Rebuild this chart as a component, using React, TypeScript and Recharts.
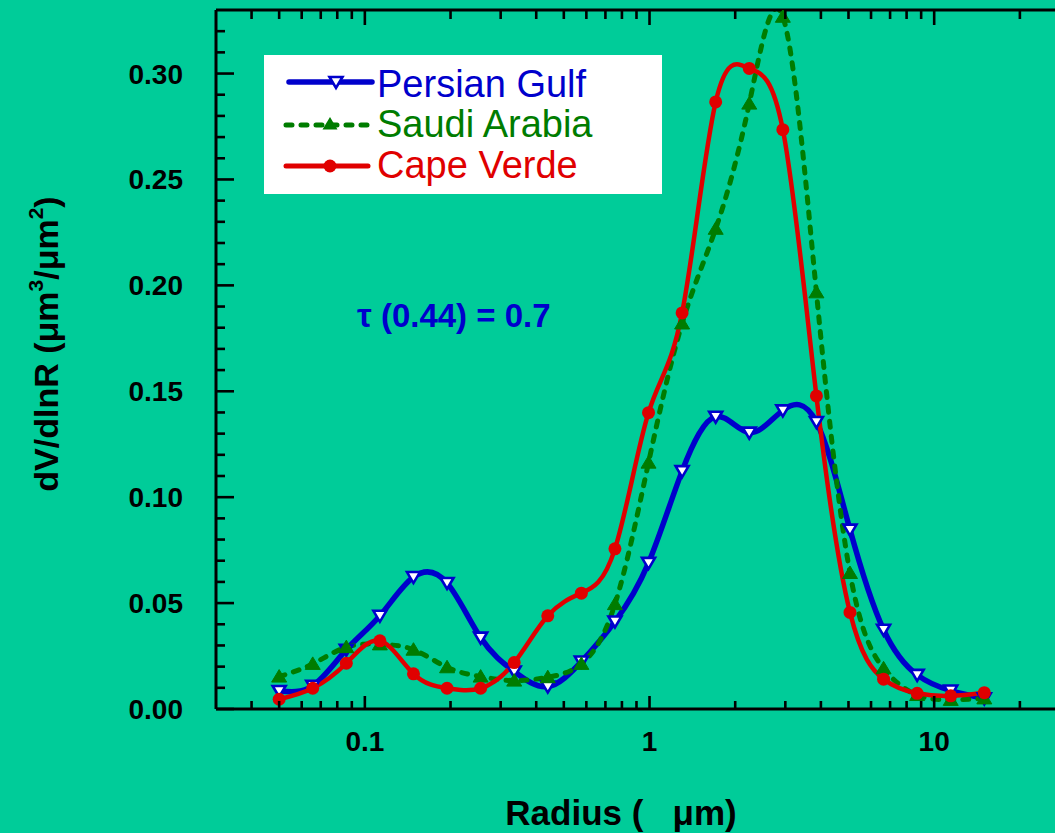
import React from "react";
import { Legend, Line, LineChart, XAxis, YAxis } from "recharts";

// AERONET size bins (µm) and dV/dlnR for each site
const radius = [
  0.05, 0.065604, 0.086077, 0.112939, 0.148184, 0.194429, 0.255105, 0.334716,
  0.439173, 0.576227, 0.756052, 0.991996, 1.301571, 1.707757, 2.240702,
  2.939966, 3.857452, 5.06126, 6.640745, 8.713145, 11.432287, 15.0,
];
const persianGulf = [
  0.0085, 0.011, 0.028, 0.044, 0.0623, 0.0595, 0.0337, 0.0177, 0.0106, 0.0224,
  0.0413, 0.069, 0.1123, 0.138, 0.1305, 0.141, 0.1355, 0.0847, 0.0374, 0.0161,
  0.0087, 0.005,
];
const saudiArabia = [
  0.0153, 0.0213, 0.0292, 0.0305, 0.028, 0.0197, 0.0153, 0.0134, 0.015, 0.0213,
  0.0495, 0.1163, 0.182, 0.2267, 0.2858, 0.3268, 0.1967, 0.0642, 0.0192, 0.0066,
  0.0043, 0.005,
];
const capeVerde = [
  0.0046, 0.0098, 0.0216, 0.0322, 0.0166, 0.0098, 0.0098, 0.0219, 0.044, 0.0547,
  0.0756, 0.1399, 0.187, 0.2866, 0.3024, 0.2735, 0.1478, 0.0456, 0.0141, 0.0074,
  0.0062, 0.0077,
];

const xMajor = [0.1, 1, 10];
const xMajorLabels = ["0.1", "1", "10"];
const xMinor = [
  0.04, 0.05, 0.06, 0.07, 0.08, 0.09, 0.2, 0.3, 0.4, 0.5, 0.6, 0.7, 0.8, 0.9,
  2, 3, 4, 5, 6, 7, 8, 9, 20,
];
const yMajor = [0, 0.05, 0.1, 0.15, 0.2, 0.25, 0.3];
const yMajorLabels = ["0.00", "0.05", "0.10", "0.15", "0.20", "0.25", "0.30"];
const yMinor = [
  0.01, 0.02, 0.03, 0.04, 0.06, 0.07, 0.08, 0.09, 0.11, 0.12, 0.13, 0.14, 0.16,
  0.17, 0.18, 0.19, 0.21, 0.22, 0.23, 0.24, 0.26, 0.27, 0.28, 0.29, 0.31, 0.32,
];
const legendOrder = ["persian", "saudi", "cape"];

const BG = "#00cc99";
const BLUE = "#0000cc";
const GREEN = "#007c00";
const RED = "#e00000";
const FONT = "'Liberation Sans', Arial, sans-serif";

const rows = radius.map((r, i) => ({
  r,
  persian: persianGulf[i],
  saudi: saudiArabia[i],
  cape: capeVerde[i],
}));

const xTicks = [...xMinor, ...xMajor].sort((a, b) => a - b);
const yTicks = [...yMinor, ...yMajor].sort((a, b) => a - b);

const near = (a: number, b: number) => Math.abs(a - b) < 1e-9;

function BottomTick(props: any) {
  const x = Number(props.x);
  const y = Number(props.y);
  const idx = xMajor.findIndex((v) => near(v, props.payload.value));
  const major = idx >= 0;
  return (
    <g>
      <path d={`M${x},${y} L${x},${y - (major ? 13 : 8)}`} stroke="#000" strokeWidth={2.6} fill="none" />
      {major && (
        <text x={x} y={y + 42} textAnchor="middle" fontFamily={FONT} fontWeight="bold" fontSize={28} fill="#000">
          {xMajorLabels[idx]}
        </text>
      )}
    </g>
  );
}

function TopTick(props: any) {
  const x = Number(props.x);
  const y = Number(props.y);
  const major = xMajor.some((v) => near(v, props.payload.value));
  return (
    <g>
      <path d={`M${x},${y} L${x},${y + (major ? 15 : 9)}`} stroke="#000" strokeWidth={2.6} fill="none" />
    </g>
  );
}

function LeftTick(props: any) {
  const x = Number(props.x);
  const y = Number(props.y);
  const idx = yMajor.findIndex((v) => near(v, props.payload.value));
  const major = idx >= 0;
  return (
    <g>
      <path d={`M${x},${y} L${x + (major ? 18 : 9)},${y}`} stroke="#000" strokeWidth={2.6} fill="none" />
      {major && (
        <text x={x - 33} y={y + 10} textAnchor="end" fontFamily={FONT} fontWeight="bold" fontSize={28} fill="#000">
          {yMajorLabels[idx]}
        </text>
      )}
    </g>
  );
}

function downTri(cx: number, cy: number) {
  return `M${cx - 6.5},${cy - 5} L${cx + 6.5},${cy - 5} L${cx},${cy + 6} Z`;
}
function upTri(cx: number, cy: number) {
  return `M${cx},${cy - 7} L${cx - 7.5},${cy + 5.5} L${cx + 7.5},${cy + 5.5} Z`;
}

const blueDot = (p: any) => (
  <path key={`pg-${p.index}`} d={downTri(p.cx, p.cy)} fill="#fff" stroke={BLUE} strokeWidth={2.6} />
);
const greenDot = (p: any) => <path key={`sa-${p.index}`} d={upTri(p.cx, p.cy)} fill={GREEN} stroke={GREEN} strokeWidth={1} />;
const redDot = (p: any) => <circle key={`cv-${p.index}`} cx={p.cx} cy={p.cy} r={6.5} fill={RED} />;

const styleByKey: Record<string, { color: string; dash?: string; marker: string }> = {
  persian: { color: BLUE, marker: "down" },
  saudi: { color: GREEN, dash: "6 9", marker: "up" },
  cape: { color: RED, marker: "circle" },
};

function LegendBox(props: any) {
  const payload = [...(props.payload || [])].sort(
    (a: any, b: any) => legendOrder.indexOf(a.dataKey) - legendOrder.indexOf(b.dataKey)
  );
  const lineY = [27, 70, 111];
  const textY = [42, 82, 123];
  return (
    <svg width={398} height={139} style={{ display: "block", background: "#fff" }}>
      {payload.map((entry: any, i: number) => {
        const st = styleByKey[entry.dataKey];
        const x1 = i === 0 ? 25 : 22;
        const x2 = i === 0 ? 108 : 104;
        const mx = i === 0 ? 72 : 66;
        return (
          <g key={entry.dataKey}>
            <line
              x1={x1}
              x2={x2}
              y1={lineY[i]}
              y2={lineY[i]}
              stroke={st.color}
              strokeWidth={i === 0 ? 5.5 : 5}
              strokeDasharray={st.dash}
              strokeLinecap="round"
            />
            {st.marker === "down" && <path d={downTri(mx, lineY[i])} fill="#fff" stroke={BLUE} strokeWidth={2.6} />}
            {st.marker === "up" && <path d={upTri(mx, lineY[i] - 1)} fill={GREEN} />}
            {st.marker === "circle" && <circle cx={mx} cy={lineY[i]} r={6.5} fill={RED} />}
            <text x={113} y={textY[i]} fontFamily={FONT} fontSize={38} fill={st.color}>
              {entry.value}
            </text>
          </g>
        );
      })}
    </svg>
  );
}

function YTitle(props: any) {
  const vb = props.viewBox || { x: 156, y: 10 };
  const x = vb.x - 98;
  const y = vb.y + 334;
  return (
    <text x={x} y={y} transform={`rotate(-90, ${x}, ${y})`} textAnchor="middle" fontFamily={FONT} fontWeight="bold" fontSize={34} fill="#000">
      dV/dlnR (μm
      <tspan dy={-15} fontSize={21}>3</tspan>
      <tspan dy={15}>/μm</tspan>
      <tspan dy={-15} fontSize={21}>2</tspan>
      <tspan dy={15}>)</tspan>
    </text>
  );
}

function XTitle(props: any) {
  const vb = props.viewBox || { x: 216, y: 709 };
  return (
    <text x={vb.x + 405} y={vb.y + 116} textAnchor="middle" fontFamily={FONT} fontWeight="bold" fontSize={35} fill="#000" style={{ whiteSpace: "pre" }}>
      {"Radius (   μm)"}
    </text>
  );
}

export default function App() {
  return (
    <div
      style={{
        position: "fixed",
        left: 0,
        top: 0,
        width: 1055,
        height: 833,
        overflow: "hidden",
        background: BG,
      }}
    >
      <LineChart width={1100} height={833} data={rows} margin={{ top: 9, right: 30, bottom: 64, left: 156 }}>
        <XAxis
          dataKey="r"
          type="number"
          scale="log"
          domain={[0.03, 30]}
          allowDataOverflow
          ticks={xTicks}
          interval={0}
          height={60}
          tickSize={0}
          tickMargin={0}
          tickLine={false}
          axisLine={{ stroke: "#000", strokeWidth: 3 }}
          tick={(p: any) => <BottomTick {...p} />}
          label={<XTitle />}
        />
        <XAxis
          xAxisId="top"
          dataKey="r"
          type="number"
          scale="log"
          orientation="top"
          domain={[0.03, 30]}
          allowDataOverflow
          ticks={xTicks}
          interval={0}
          height={1}
          tickSize={0}
          tickMargin={0}
          tickLine={false}
          axisLine={{ stroke: "#000", strokeWidth: 3 }}
          tick={(p: any) => <TopTick {...p} />}
        />
        <YAxis
          type="number"
          domain={[0, 0.33]}
          allowDataOverflow
          ticks={yTicks}
          interval={0}
          width={60}
          tickSize={0}
          tickMargin={0}
          tickLine={false}
          axisLine={{ stroke: "#000", strokeWidth: 3 }}
          tick={(p: any) => <LeftTick {...p} />}
          label={<YTitle />}
        />
        <Legend
          layout="vertical"
          align="center"
          verticalAlign="middle"
          width={398}
          height={139}
          wrapperStyle={{ position: "absolute", left: 264, top: 55, width: 398, height: 139 }}
          content={<LegendBox />}
        />
        <Line
          name="Persian Gulf"
          dataKey="persian"
          type="natural"
          stroke={BLUE}
          strokeWidth={5.5}
          dot={blueDot}
          activeDot={false}
          isAnimationActive={false}
        />
        <Line
          name="Saudi Arabia"
          dataKey="saudi"
          type="natural"
          stroke={GREEN}
          strokeWidth={5}
          strokeDasharray="6 9"
          strokeLinecap="round"
          dot={greenDot}
          activeDot={false}
          isAnimationActive={false}
        />
        <Line
          name="Cape Verde"
          dataKey="cape"
          type="natural"
          stroke={RED}
          strokeWidth={4.5}
          dot={redDot}
          activeDot={false}
          isAnimationActive={false}
        />
      </LineChart>
      <div
        style={{
          position: "absolute",
          left: 357,
          top: 299,
          fontFamily: FONT,
          fontWeight: "bold",
          fontSize: 33,
          lineHeight: "33px",
          color: BLUE,
          whiteSpace: "pre",
        }}
      >
        τ (0.44) = 0.7
      </div>
    </div>
  );
}
